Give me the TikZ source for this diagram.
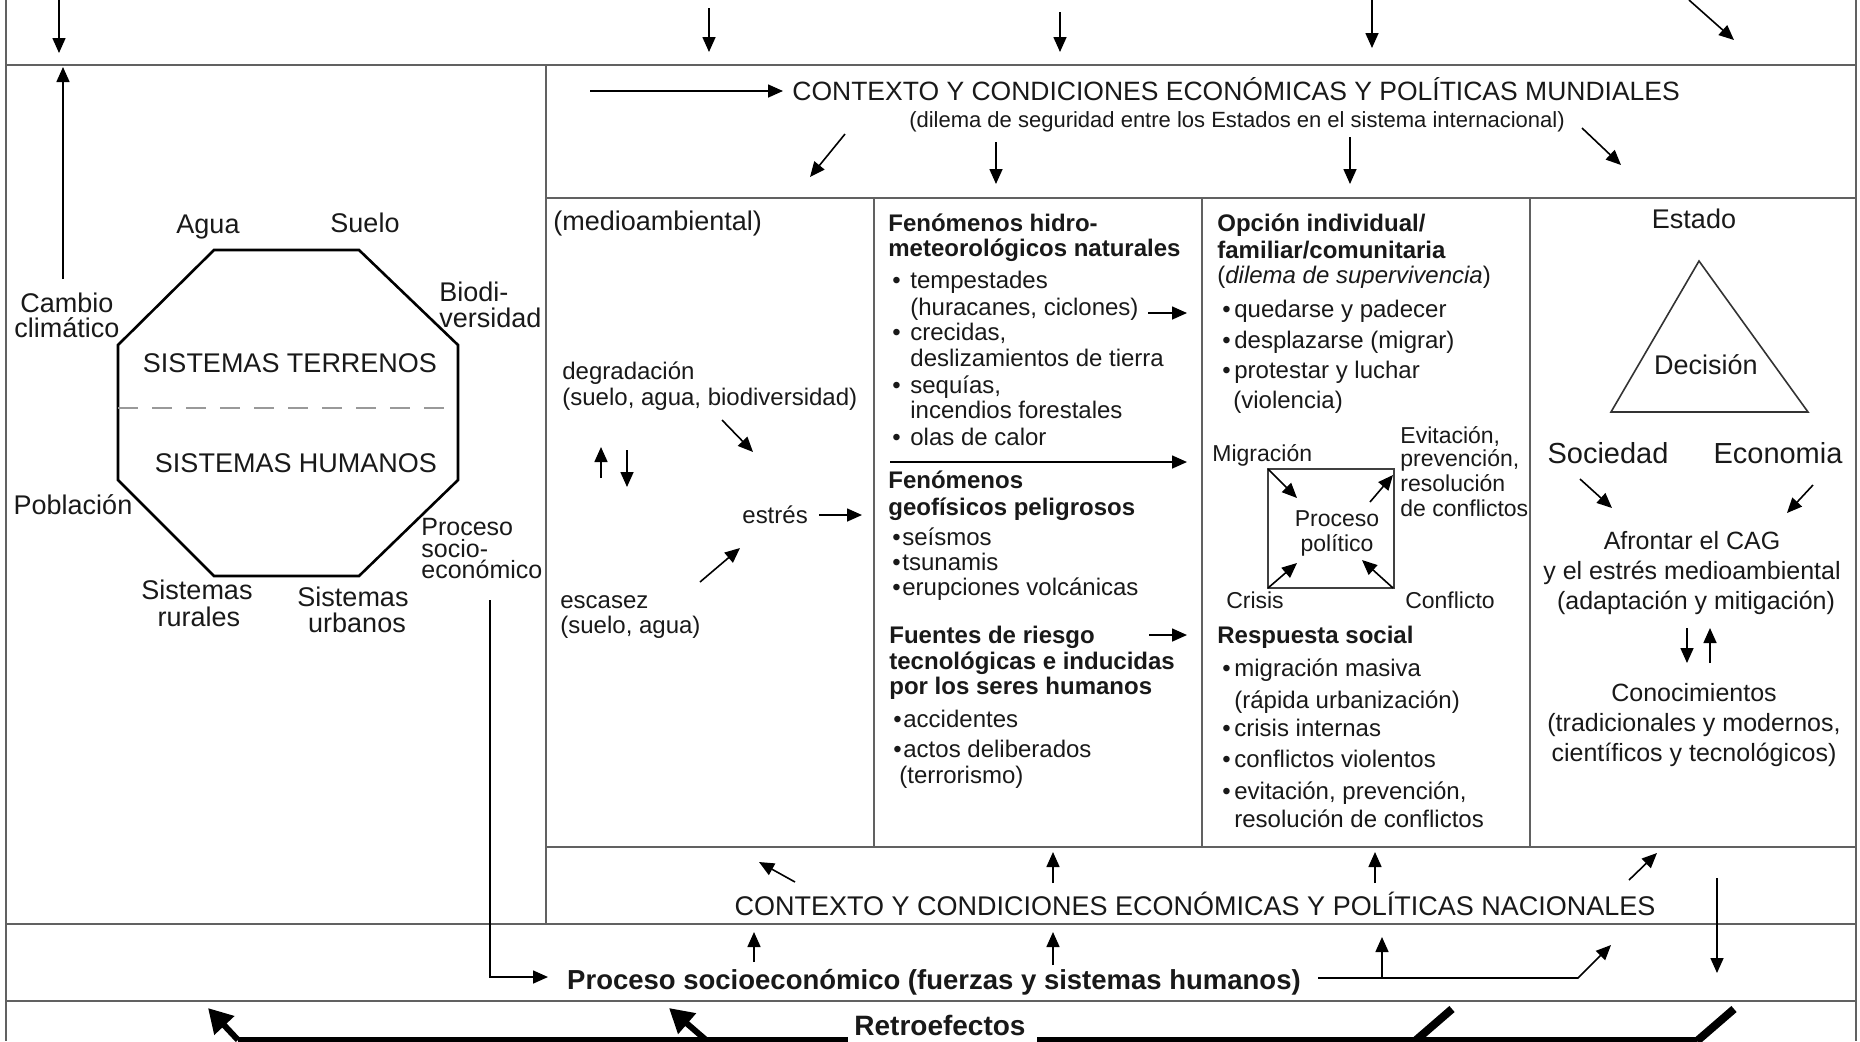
\documentclass[tikz,border=0pt]{standalone}
\usepackage{fontspec}
\setmainfont{Liberation Sans}
\usetikzlibrary{arrows.meta}
\begin{document}
\begin{tikzpicture}[x=0.5pt,y=-0.5pt,
 frame/.style={draw=black!62,line width=1.3pt},
 divl/.style={draw=black!62,line width=0.8pt},
 arr/.style={draw=black,line width=0.8pt,-{Triangle[length=7.5pt,width=6.5pt]}},
 bigarr/.style={draw=black,line width=3pt,-{Triangle[length=12pt,width=13pt]}},
 thk/.style={draw=black,line width=3pt},
 t/.style={inner sep=0pt,anchor=base west,text=black!90},
 tc/.style={inner sep=0pt,anchor=base,text=black!90},
 fA/.style={font=\fontsize{13.5pt}{16pt}\selectfont},
 fB/.style={font=\fontsize{12pt}{14pt}\selectfont},
 fBb/.style={font=\fontsize{12pt}{14pt}\selectfont\bfseries},
 fC/.style={font=\fontsize{11.5pt}{14pt}\selectfont},
 fD/.style={font=\fontsize{12.5pt}{15pt}\selectfont},
 fE/.style={font=\fontsize{14.5pt}{17pt}\selectfont},
 fF/.style={font=\fontsize{11pt}{13pt}\selectfont},
 fG/.style={font=\fontsize{13.25pt}{16pt}\selectfont},
]
\useasboundingbox (0,0) rectangle (1860,1041);
\fill[white] (0,0) rectangle (1860,1041);

% ---------- frame ----------
\draw[frame] (6,0) -- (6,1041);
\draw[frame] (1856,0) -- (1856,1041);
\draw[frame] (6,65) -- (1856,65);
\draw[frame] (6,924) -- (1856,924);
\draw[frame] (6,1001) -- (1856,1001);
\draw[divl] (546,65) -- (546,924);
\draw[frame] (546,198) -- (1856,198);
\draw[frame] (546,847) -- (1856,847);
\draw[divl] (874,198) -- (874,847);
\draw[divl] (1202,198) -- (1202,847);
\draw[divl] (1530,198) -- (1530,847);

% ---------- top band arrows ----------
\coordinate (ta1) at (59,0);    \coordinate (tb1) at (59,53);
\coordinate (ta2) at (709,8);   \coordinate (tb2) at (709,52);
\coordinate (ta3) at (1060,12); \coordinate (tb3) at (1060,52);
\coordinate (ta4) at (1372,0);  \coordinate (tb4) at (1372,48);
\coordinate (ta5) at (1689,0);  \coordinate (tb5) at (1734,40);
\foreach \i in {1,...,5} \draw[arr] (ta\i) -- (tb\i);

% ---------- left column ----------
\node[tc,fA] (cambio1) at (67,312) {Cambio};
\node[tc,fA] (cambio2) at (67,337) {climático};
\coordinate (cc1) at (63,279); \coordinate (cc2) at (63,67);
\draw[arr] (cc1) -- (cc2);

\draw[black,line width=1.3pt] (214,250) -- (359,250) -- (458,345) -- (458,480) -- (359,576) -- (214,576) -- (118,480) -- (118,345) -- cycle;
\draw[black!40,line width=1.2pt,dash pattern=on 10pt off 7pt] (118,408) -- (458,408);

\node[tc,fA] (agua) at (208,233) {Agua};
\node[tc,fA] (suelo) at (365,232) {Suelo};
\node[t,fA] (bio1) at (439,301) {Biodi-};
\node[t,fA] (bio2) at (439,327) {versidad};
\node[tc,fA] (terr) at (290,372) {SISTEMAS TERRENOS};
\node[tc,fA] (hum) at (296,472) {SISTEMAS HUMANOS};
\node[tc,fA] (pobl) at (73,514) {Población};
\node[t,fD] (pse1) at (421,535.5) {Proceso};
\node[t,fD] (pse2) at (421,557) {socio-};
\node[t,fD] (pse3) at (421,578.5) {económico};
\node[tc,fA] (rur1) at (197,599.5) {Sistemas};
\node[tc,fA] (rur2) at (199,626.5) {rurales};
\node[tc,fA] (urb1) at (353,606.5) {Sistemas};
\node[tc,fA] (urb2) at (357,632.5) {urbanos};

% ---------- mundial band ----------
\coordinate (m0) at (590,91); \coordinate (m0b) at (783,91);
\draw[arr] (m0) -- (m0b);
\node[t,fG] (mund) at (792,100.5) {CONTEXTO Y CONDICIONES ECONÓMICAS Y POLÍTICAS MUNDIALES};
\node[tc,fF] (mundsub) at (1237,127) {(dilema de seguridad entre los Estados en el sistema internacional)};
\coordinate (ma1) at (845,134);  \coordinate (mb1) at (810,177);
\coordinate (ma2) at (996,142);  \coordinate (mb2) at (996,184);
\coordinate (ma3) at (1350,137); \coordinate (mb3) at (1350,184);
\coordinate (ma4) at (1582,128); \coordinate (mb4) at (1621,165);
\foreach \i in {1,...,4} \draw[arr] (ma\i) -- (mb\i);

% ---------- column 1 ----------
\node[t,fA] (medio) at (553,230.5) {(medioambiental)};
\node[t,fB] (degr1) at (562,379.5) {degradación};
\node[t,fB] (degr2) at (562,405.5) {(suelo, agua, biodiversidad)};
\coordinate (d1) at (722,420); \coordinate (d2) at (753,452);
\draw[arr] (d1) -- (d2);
\coordinate (u1) at (601,478); \coordinate (u2) at (601,447);
\draw[arr] (u1) -- (u2);
\coordinate (v1) at (627,450); \coordinate (v2) at (627,487);
\draw[arr] (v1) -- (v2);
\node[t,fB] (estres) at (742,523.5) {estrés};
\coordinate (e2) at (862,515);
\draw[arr] (estres.east |- e2) ++(11,0) coordinate (e1) -- (e2);
\coordinate (s1) at (700,582); \coordinate (s2) at (740,548);
\draw[arr] (s1) -- (s2);
\node[t,fB] (esc1) at (560,608.5) {escasez};
\node[t,fB] (esc2) at (560,633.5) {(suelo, agua)};

% ---------- column 2 ----------
\node[t,fBb] (h1) at (888,231.5) {Fenómenos hidro-};
\node[t,fBb] (h2) at (888,256.5) {meteorológicos naturales};
\node[t,fB] (h3) at (892,288.5) {\makebox[9pt][l]{•}tempestades};
\node[t,fB] (h4) at (910,315.5) {(huracanes, ciclones)};
\node[t,fB] (h5) at (892,340.5) {\makebox[9pt][l]{•}crecidas,};
\node[t,fB] (h6) at (910,366.5) {deslizamientos de tierra};
\node[t,fB] (h7) at (892,393.5) {\makebox[9pt][l]{•}sequías,};
\node[t,fB] (h8) at (910,418.5) {incendios forestales};
\node[t,fB] (h9) at (892,445.5) {\makebox[9pt][l]{•}olas de calor};
\coordinate (hh1) at (1148,313); \coordinate (hh2) at (1187,313);
\draw[arr] (hh1) -- (hh2);
\coordinate (la1) at (890,462); \coordinate (la2) at (1187,462);
\draw[arr] (la1) -- (la2);
\node[t,fBb] (g1) at (888,488.5) {Fenómenos};
\node[t,fBb] (g2) at (888,515.5) {geofísicos peligrosos};
\node[t,fB] (g3) at (892,545.5) {\makebox[5pt][l]{•}seísmos};
\node[t,fB] (g4) at (892,570.5) {\makebox[5pt][l]{•}tsunamis};
\node[t,fB] (g5) at (892,595.5) {\makebox[5pt][l]{•}erupciones volcánicas};
\node[t,fBb] (f1) at (889,643.5) {Fuentes de riesgo};
\node[t,fBb] (f2) at (889,669.5) {tecnológicas e inducidas};
\node[t,fBb] (f3) at (889,694.5) {por los seres humanos};
\coordinate (fa1) at (1149,635); \coordinate (fa2) at (1187,635);
\draw[arr] (fa1) -- (fa2);
\node[t,fB] (f4) at (893,727.5) {\makebox[5pt][l]{•}accidentes};
\node[t,fB] (f5) at (893,757.5) {\makebox[5pt][l]{•}actos deliberados};
\node[t,fB] (f6) at (899,783.5) {(terrorismo)};

% ---------- column 3 ----------
\node[t,fBb] (o1) at (1217,231.5) {Opción individual/};
\node[t,fBb] (o2) at (1217,258.5) {familiar/comunitaria};
\node[t,fB] (o3) at (1217,283.5) {(\textit{dilema de supervivencia})};
\node[t,fB] (o4) at (1222,317.5) {\makebox[6pt][l]{•}quedarse y padecer};
\node[t,fB] (o5) at (1222,348.5) {\makebox[6pt][l]{•}desplazarse (migrar)};
\node[t,fB] (o6) at (1222,378.5) {\makebox[6pt][l]{•}protestar y luchar};
\node[t,fB] (o7) at (1233,408.5) {(violencia)};
\node[t,fC] (migr) at (1212,461) {Migración};
\node[t,fC] (ev1) at (1400,443) {Evitación,};
\node[t,fC] (ev2) at (1400,466) {prevención,};
\node[t,fC] (ev3) at (1400,491) {resolución};
\node[t,fC] (ev4) at (1400,516) {de conflictos};
\draw[black!75,line width=0.8pt] (1268,469) rectangle (1394,588);
\node[tc,fC] (pp1) at (1337,526) {Proceso};
\node[tc,fC] (pp2) at (1337,551) {político};
\coordinate (pa1) at (1268,469); \coordinate (pb1) at (1297,498);
\coordinate (pa2) at (1370,502); \coordinate (pb2) at (1393,475);
\coordinate (pa3) at (1268,588); \coordinate (pb3) at (1297,563);
\coordinate (pa4) at (1393,588); \coordinate (pb4) at (1362,560);
\foreach \i in {1,...,4} \draw[arr] (pa\i) -- (pb\i);
\node[tc,fC] (crisis) at (1255,608) {Crisis};
\node[tc,fC] (confl) at (1450,608) {Conflicto};
\node[t,fBb] (r1) at (1217,643.5) {Respuesta social};
\node[t,fB] (r2) at (1222,676.5) {\makebox[6pt][l]{•}migración masiva};
\node[t,fB] (r3) at (1234,708) {(rápida urbanización)};
\node[t,fB] (r4) at (1222,736.5) {\makebox[6pt][l]{•}crisis internas};
\node[t,fB] (r5) at (1222,767.5) {\makebox[6pt][l]{•}conflictos violentos};
\node[t,fB] (r6) at (1222,799) {\makebox[6pt][l]{•}evitación, prevención,};
\node[t,fB] (r7) at (1234,827) {resolución de conflictos};

% ---------- column 4 ----------
\node[tc,fA] (estado) at (1694,228) {Estado};
\draw[black!80,line width=0.8pt] (1699,261) -- (1808,412) -- (1611,412) -- cycle;
\node[tc,fA] (decis) at (1706,374.5) {Decisión};
\node[tc,fE] (soc) at (1608,463) {Sociedad};
\node[tc,fE] (eco) at (1778,463) {Economia};
\coordinate (sa1) at (1580,479); \coordinate (sb1) at (1612,508);
\coordinate (sa2) at (1813,485); \coordinate (sb2) at (1787,513);
\draw[arr] (sa1) -- (sb1);
\draw[arr] (sa2) -- (sb2);
\node[tc,fD] (afr1) at (1692,549) {Afrontar el CAG};
\node[tc,fD] (afr2) at (1692,579) {y el estrés medioambiental};
\node[tc,fD] (afr3) at (1696,609) {(adaptación y mitigación)};
\coordinate (ka1) at (1687,628); \coordinate (kb1) at (1687,663);
\coordinate (ka2) at (1710,663); \coordinate (kb2) at (1710,628);
\draw[arr] (ka1) -- (kb1);
\draw[arr] (ka2) -- (kb2);
\node[tc,fD] (con1) at (1694,701) {Conocimientos};
\node[tc,fD] (con2) at (1694,731) {(tradicionales y modernos,};
\node[tc,fD] (con3) at (1694,761) {científicos y tecnológicos)};

% ---------- national band ----------
\node[tc,font=\fontsize{13.5pt}{16pt}\selectfont] (nac) at (1195,915) {CONTEXTO Y CONDICIONES ECONÓMICAS Y POLÍTICAS NACIONALES};
\coordinate (na1) at (795,882);  \coordinate (nb1) at (759,862);
\coordinate (na2) at (1053,883); \coordinate (nb2) at (1053,852);
\coordinate (na3) at (1375,883); \coordinate (nb3) at (1375,852);
\coordinate (na4) at (1629,880); \coordinate (nb4) at (1657,853);
\foreach \i in {1,...,4} \draw[arr] (na\i) -- (nb\i);
\coordinate (dn1) at (1717,878); \coordinate (dn2) at (1717,973);
\draw[arr] (dn1) -- (dn2);

% ---------- socio-economic band ----------
\node[tc,font=\fontsize{13.75pt}{16pt}\selectfont\bfseries] (socio) at (934,989) {Proceso socioeconómico (fuerzas y sistemas humanos)};
\coordinate (ps0) at (490,600); \coordinate (ps1) at (548,977);
\draw[arr] (ps0) |- (ps1);
\coordinate (sc1) at (754,962);  \coordinate (sd1) at (754,932);
\coordinate (sc2) at (1053,965); \coordinate (sd2) at (1053,932);
\draw[arr] (sc1) -- (sd1);
\draw[arr] (sc2) -- (sd2);
\coordinate (sr0) at (1318,978); \coordinate (sr1) at (1578,978); \coordinate (sr2) at (1611,945);
\draw[arr] (sr0) -- (sr1) -- (sr2);
\coordinate (sup0) at (1382,978); \coordinate (sup1) at (1382,937);
\draw[arr] (sup0) -- (sup1);

% ---------- retroefectos band ----------
\node[tc,font=\fontsize{14pt}{16pt}\selectfont\bfseries] (retro) at (940,1035) {Retroefectos};
\coordinate (rl0) at (848,1040); \coordinate (rl1) at (238,1040); \coordinate (rl2) at (208,1008);
\coordinate (rm1) at (706,1040); \coordinate (rm2) at (669,1008);
\draw[thk] (rl0) -- (rl1);
\draw[bigarr] (rl1) -- (rl2);
\draw[bigarr] (rm1) -- (rm2);
\coordinate (rr0) at (1037,1040); \coordinate (rr1) at (1697,1040);
\coordinate (rs1) at (1415,1041); \coordinate (rs2) at (1452,1009);
\coordinate (rs3) at (1697,1041); \coordinate (rs4) at (1734,1009);
\draw[thk] (rr0) -- (rr1);
\draw[line width=4pt] (rs1) -- (rs2);
\draw[line width=4pt] (rs3) -- (rs4);
\end{tikzpicture}
\end{document}
